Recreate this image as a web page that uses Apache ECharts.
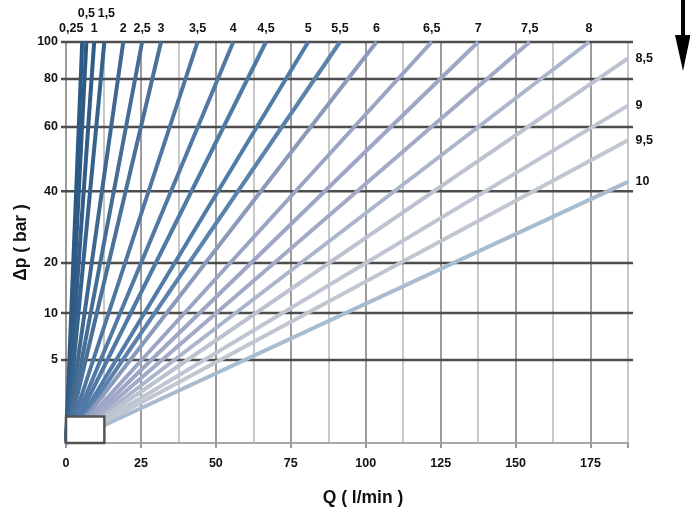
<!DOCTYPE html>
<html>
<head>
<meta charset="utf-8">
<script src="https://cdn.jsdelivr.net/npm/echarts@6/dist/echarts.min.js"></script>
<style>html,body{margin:0;padding:0;background:#fff;}#c{width:690px;height:512px;}</style>
</head>
<body>
<div id="c"></div>
<script>
// ---- data ----
const settings = ['0,25','0,5','1','1,5','2','2,5','3','3,5','4','4,5','5','5,5','6','6,5','7','7,5','8','8,5','9','9,5','10'];
const endQ  = [5.4, 6.8, 9.4, 12.8, 19.1, 25.4, 31.7, 43.9, 55.8, 66.7, 80.8, 91.4, 103.6, 122, 137.5, 154.7, 174.5, 187.5, 187.5, 187.5, 187.5];
const endDp = [100,100,100,100,100,100,100,100,100,100,100,100,100,100,100,100,100, 91.1, 68.9, 55.9, 42.9];
const dpTicks = [5, 10, 20, 40, 60, 80, 100];
const qTicks = [0, 25, 50, 75, 100, 125, 150, 175];
const qMax = 187.5;
// non-linear Δp scale of the original diagram: Δp value -> axis fraction (0..100)
const scaleDp   = [0, 5, 10, 20, 40, 60, 80, 100];
const scaleFrac = [0, 20.7, 32.4, 44.9, 62.8, 78.8, 90.8, 100];
const deadBox = {q: 12.8, dp: 1.6};
// ---- styles ----
const palette = ['#2d5a84','#2e5b86','#315d88','#36628c','#3f6891','#466d94','#4a7198','#4d76a0','#5279a4','#4f79a6','#517ba8','#5b82ad','#8a9aba','#9aa4c4','#9ea6c6','#a3aac8','#abb6cc','#bcc2d0','#bfc5d2','#c1c7d1','#a8bcd0'];

function toAxis(dp){
  for (let i = 1; i < scaleDp.length; i++) {
    if (dp <= scaleDp[i]) {
      const t = (dp - scaleDp[i-1]) / (scaleDp[i] - scaleDp[i-1]);
      return scaleFrac[i-1] + t * (scaleFrac[i] - scaleFrac[i-1]);
    }
  }
  return 100;
}

const font = 'Liberation Sans, Arial, sans-serif';
const fs = 12.5;
const labelOffsets = {'0,25':[-11,0], '0,5':[0,-15], '1':[0,0], '1,5':[2,-15]};

const series = [];
// horizontal Δp grid lines with tick labels (drawn through the axis scale)
series.push({
  type:'custom', z:1, silent:true, clip:false, animation:false,
  data: dpTicks.map(v => [0, toAxis(v), v]),
  renderItem: function(params, api){
    const y = api.value(1);
    const p0 = api.coord([0, y]);
    const p1 = api.coord([qMax, y]);
    return {type:'group', children:[
      {type:'line', shape:{x1:p0[0]-5, y1:p0[1], x2:p1[0]+5, y2:p1[1]},
       style:{stroke:'#4d4d4d', lineWidth:2.5}},
      {type:'text', style:{text:String(api.value(2)), x:p0[0]-8, y:p0[1],
        align:'right', verticalAlign:'middle', fill:'#111',
        font:'bold ' + fs + 'px ' + font}}
    ]};
  }
});
settings.forEach((name, i) => {
  const isTop = endDp[i] >= 100;
  series.push({
    type:'line', name:name, z:2, silent:true, animation:false,
    symbol:'circle', symbolSize:1, showSymbol:true, showAllSymbol:true,
    itemStyle:{color:palette[i]},
    lineStyle:{color:palette[i], width:4, cap:'butt'},
    data:[
      [0, 0],
      {value:[endQ[i], toAxis(endDp[i])],
       label:{show:true, position: isTop ? 'top' : 'right', distance: isTop ? 6 : 7,
              offset: labelOffsets[name] || [0,0],
              formatter: name, color:'#111', fontWeight:'bold', fontSize:fs, fontFamily:font}}
    ]
  });
});
// dead-zone box
series.push({
  type:'line', z:3, data:[], silent:true,
  markArea:{silent:true, z:10, itemStyle:{color:'#fff', borderColor:'#555', borderWidth:2.5},
    data:[[{coord:[0,0]},{coord:[deadBox.q, toAxis(deadBox.dp)]}]]}
});

const chart = echarts.init(document.getElementById('c'));
chart.setOption({
  animation:false,
  backgroundColor:'#fff',
  grid:{left:66, right:62, top:42, bottom:69, containLabel:false, outerBoundsMode:'none'},
  xAxis:[
    {type:'value', min:0, max:qMax, interval:12.5,
     name:'Q ( l/min )', nameLocation:'middle', nameGap:46,
     nameTextStyle:{fontWeight:'bold', fontSize:17.5, color:'#111', fontFamily:font, padding:[0,0,0,32]},
     axisLine:{show:true, onZero:false, lineStyle:{color:'#a8a8a8', width:2}},
     axisTick:{show:false},
     axisLabel:{margin:14, color:'#111', fontWeight:'bold', fontSize:fs, fontFamily:font,
       formatter:(v)=> qTicks.indexOf(v) >= 0 ? String(v) : ''},
     splitLine:{show:true, lineStyle:{color:'#c8c8c8', width:2}}},
    {type:'value', min:0, max:qMax, interval:25, position:'bottom',
     axisLine:{show:false}, axisLabel:{show:false},
     axisTick:{show:true, length:5, lineStyle:{color:'#999', width:2}},
     splitLine:{show:true, showMinLine:false, showMaxLine:false, lineStyle:{color:'#9c9c9c', width:2}}}
  ],
  yAxis:{type:'value', min:0, max:100,
    name:'Δp ( bar )', nameLocation:'middle', nameGap:36, nameRotate:90,
    nameTextStyle:{fontWeight:'bold', fontSize:17.5, color:'#111', fontFamily:font},
    axisLine:{show:true, onZero:false, lineStyle:{color:'#999', width:2}},
    axisTick:{show:false}, axisLabel:{show:false}, splitLine:{show:false}},
  graphic:[
    {type:'rect', shape:{x:681, y:0, width:4, height:37}, style:{fill:'#000'}},
    {type:'polygon', shape:{points:[[675,35],[690.5,35],[683,71]]}, style:{fill:'#000'}}
  ],
  series: series
});
</script>
</body>
</html>
